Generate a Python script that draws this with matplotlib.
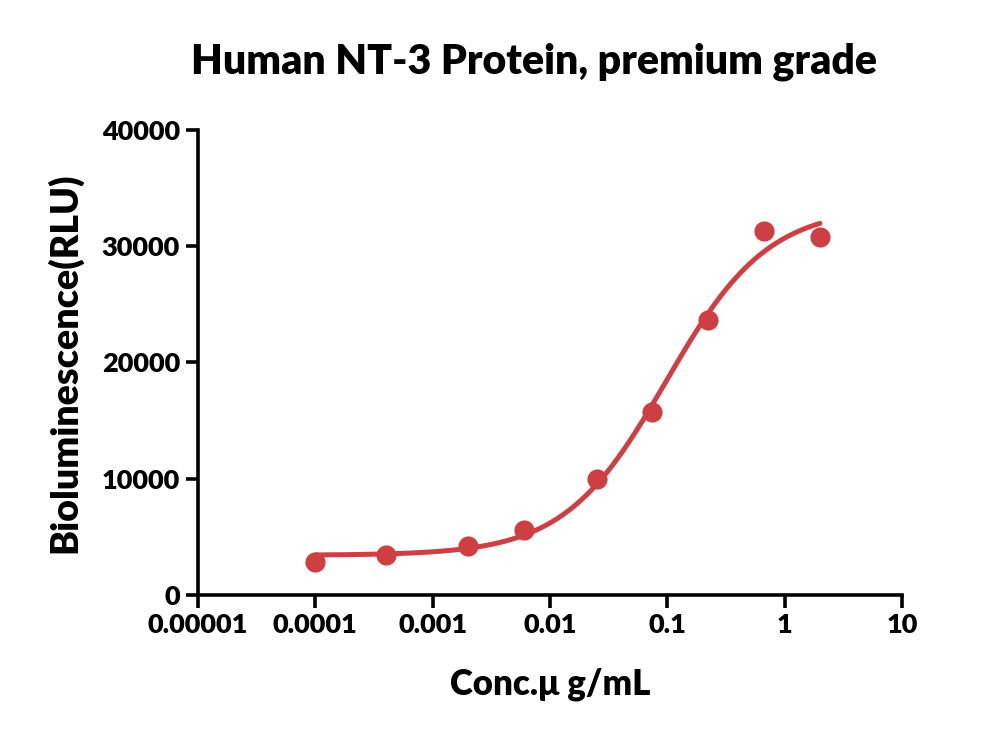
import numpy as np
import matplotlib
matplotlib.use("Agg")
import matplotlib.pyplot as plt
from matplotlib.ticker import FixedLocator, FixedFormatter, NullLocator

# concentration (ug/mL) and measured signal (RLU)
conc = [0.0001, 0.0004, 0.002, 0.006, 0.025, 0.074, 0.22, 0.67, 2.0]
rlu = [2840, 3440, 4220, 5590, 9980, 15740, 23660, 31310, 30800]

xticks = [0.00001, 0.0001, 0.001, 0.01, 0.1, 1, 10]
xticklabels = ["0.00001", "0.0001", "0.001", "0.01", "0.1", "1", "10"]
yticks = [0, 10000, 20000, 30000, 40000]

red = "#cd3f42"

plt.rcParams['font.family'] = ['Lato', 'DejaVu Sans']
plt.rcParams['font.weight'] = 'bold'

# 4PL fit: grid search on logEC50 / hill, linear least squares for bottom/top
lx = np.log10(conc)
y = np.array(rlu, dtype=float)
best = None
for lec in np.linspace(-3, 1, 401):
    for h in np.linspace(0.3, 2.5, 221):
        s = 1 / (1 + 10 ** ((lec - lx) * h))
        A = np.column_stack([1 - s, s])
        coef, *_ = np.linalg.lstsq(A, y, rcond=None)
        err = np.sum((A @ coef - y) ** 2)
        if best is None or err < best[0]:
            best = (err, lec, h, coef)
_, lec, h, (bottom, top) = best

xf = np.logspace(lx.min(), lx.max(), 300)
yf = bottom + (top - bottom) / (1 + 10 ** ((lec - np.log10(xf)) * h))

fig = plt.figure(figsize=(10, 7.41), dpi=100)
ax = fig.add_axes([0.198, 0.197, 0.704, 0.628])

ax.plot(xf, yf, color=red, lw=3.6, solid_capstyle='round', zorder=2)
ax.plot(conc, rlu, 'o', color=red, ms=14.5, mec='none', zorder=3)

ax.set_xscale('log')
ax.set_xlim(0.00001, 10)
ax.set_ylim(0, 40000)
ax.xaxis.set_major_locator(FixedLocator(xticks))
ax.xaxis.set_major_formatter(FixedFormatter(xticklabels))
ax.xaxis.set_minor_locator(NullLocator())
ax.set_yticks(yticks)
ax.set_yticklabels([str(v) for v in yticks])

for side in ['top', 'right']:
    ax.spines[side].set_visible(False)
for side in ['left', 'bottom']:
    ax.spines[side].set_linewidth(2.6)
ax.tick_params(axis='both', direction='out', length=9, width=2.6,
               labelsize=19.5, pad=4)
for lab in ax.get_xticklabels() + ax.get_yticklabels():
    lab.set_fontweight('heavy')

fig.text(0.534, 0.916, "Human NT-3 Protein, premium grade", fontsize=29.5,
         fontweight='heavy', ha='center', va='center')
ax.set_xlabel("Conc.\u03bc g/mL", fontsize=25, fontweight='heavy', labelpad=22)
ax.set_ylabel("Bioluminescence(RLU)", fontsize=27, fontweight='heavy', labelpad=14)

fig.savefig("out.png", dpi=100)
